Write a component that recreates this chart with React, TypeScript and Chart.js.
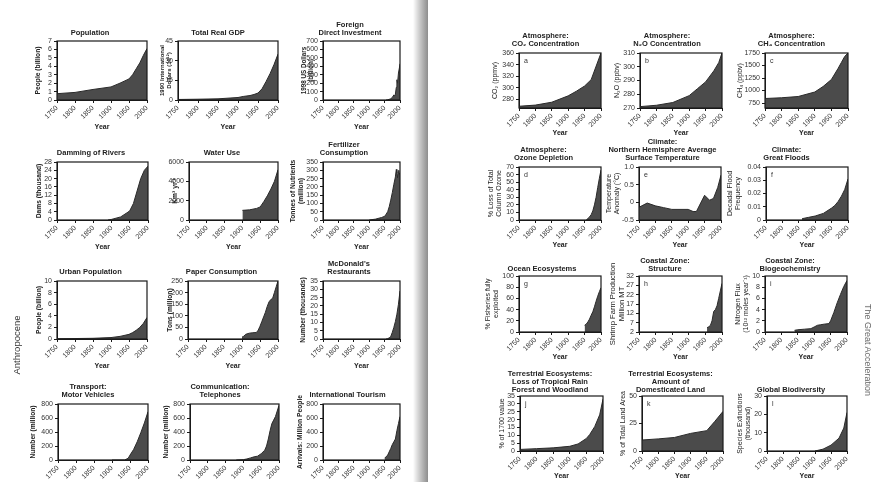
import React, { useEffect, useRef } from 'react';
import { Chart, registerables } from 'chart.js';

Chart.register(...registerables);
Chart.defaults.font.family = '"Liberation Sans", Arial, Helvetica, sans-serif';

// ---------- shared ticks ----------
const yearTicks = [1750, 1800, 1850, 1900, 1950, 2000];

// ---------- left page data ----------
const popYears = [1750, 1800, 1850, 1900, 1925, 1950, 1960, 1970, 1980, 1990, 2000];
const popValues = [0.75, 0.9, 1.25, 1.55, 2.0, 2.5, 3.0, 3.7, 4.4, 5.3, 6.1];
const popTicks = [0, 1, 2, 3, 4, 5, 6, 7];

const gdpYears = [1750, 1800, 1850, 1900, 1913, 1930, 1940, 1950, 1960, 1970, 1980, 1990, 2000];
const gdpValues = [0.4, 0.6, 0.9, 1.9, 2.7, 3.4, 4.2, 5.3, 8.5, 14, 20, 27, 35];
const gdpTicks = [0, 15, 30, 45];

const fdiYears = [1955, 1960, 1965, 1970, 1975, 1980, 1983, 1985, 1988, 1990, 1992, 1995, 1998, 2000];
const fdiValues = [0, 3, 8, 15, 30, 60, 50, 70, 150, 240, 200, 320, 380, 430];
const fdiTicks = [0, 100, 200, 300, 400, 500, 600, 700];

const damYears = [1890, 1900, 1925, 1945, 1950, 1960, 1970, 1980, 1990, 2000];
const damValues = [0, 0.3, 1.5, 3.8, 4.5, 8, 14, 20, 24, 26];
const damTicks = [0, 4, 8, 12, 16, 20, 24, 28];

const waterYears = [1900, 1920, 1940, 1950, 1960, 1970, 1980, 1990, 2000];
const waterValues = [1000, 1050, 1200, 1350, 1900, 2500, 3200, 4000, 5200];
const waterTicks = [0, 2000, 4000, 6000];

const fertYears = [1900, 1920, 1940, 1950, 1955, 1960, 1965, 1970, 1975, 1980, 1985, 1988, 1990, 1992, 1994, 1996, 1998, 2000];
const fertValues = [0, 5, 15, 22, 35, 50, 80, 120, 165, 215, 260, 305, 285, 255, 290, 300, 275, 285];
const fertTicks = [0, 50, 100, 150, 200, 250, 300, 350];

const urbanYears = [1750, 1800, 1850, 1900, 1925, 1950, 1960, 1970, 1980, 1990, 2000];
const urbanValues = [0.05, 0.08, 0.12, 0.25, 0.45, 0.8, 1.1, 1.5, 2.0, 2.7, 3.7];
const urbanTicks = [0, 2, 4, 6, 8, 10];

const paperYears = [1900, 1905, 1910, 1920, 1930, 1940, 1945, 1950, 1955, 1960, 1965, 1970, 1975, 1980, 1985, 1990, 1995, 2000];
const paperValues = [8, 12, 20, 25, 27, 28, 38, 55, 75, 95, 115, 140, 160, 170, 175, 200, 225, 250];
const paperTicks = [0, 50, 100, 150, 200, 250];

const mcdYears = [1955, 1960, 1965, 1970, 1975, 1980, 1985, 1990, 1995, 2000];
const mcdValues = [0, 0.2, 0.7, 1.5, 4, 7, 10.5, 15, 21, 29];
const mcdTicks = [0, 5, 10, 15, 20, 25, 30, 35];

const carYears = [1900, 1935, 1945, 1950, 1960, 1970, 1980, 1990, 2000];
const carValues = [0, 0, 25, 70, 150, 260, 390, 530, 690];
const carTicks = [0, 200, 400, 600, 800];

const phoneYears = [1880, 1900, 1910, 1920, 1930, 1940, 1950, 1960, 1965, 1970, 1975, 1980, 1985, 1990, 1995, 2000];
const phoneValues = [0, 5, 15, 30, 45, 55, 90, 140, 200, 300, 420, 520, 570, 620, 700, 780];
const phoneTicks = [0, 200, 400, 600, 800];

const tourYears = [1950, 1960, 1970, 1975, 1980, 1985, 1990, 1995, 2000];
const tourValues = [25, 70, 165, 220, 260, 300, 420, 520, 620];
const tourTicks = [0, 200, 400, 600, 800];

// ---------- right page data ----------
const co2Years = [1750, 1800, 1850, 1900, 1925, 1950, 1970, 2000];
const co2Values = [268, 270, 275, 286, 294, 303, 314, 360];
const co2Ticks = [280, 300, 320, 340, 360];

const n2oYears = [1750, 1800, 1850, 1900, 1925, 1950, 1975, 1990, 2000];
const n2oValues = [271, 272, 274, 279, 284, 289, 297, 303, 310];
const n2oTicks = [270, 280, 290, 300, 310];

const ch4Years = [1750, 1800, 1850, 1900, 1925, 1950, 1960, 1970, 1980, 1990, 2000];
const ch4Values = [840, 855, 880, 970, 1080, 1220, 1330, 1440, 1560, 1680, 1750];
const ch4Ticks = [750, 1000, 1250, 1500, 1750];

const ozoneYears = [1955, 1960, 1965, 1970, 1975, 1980, 1985, 1990, 1995, 2000];
const ozoneValues = [0, 2, 4, 7, 12, 20, 30, 43, 55, 66];
const ozoneTicks = [0, 10, 20, 30, 40, 50, 60, 70];

const tempYears = [1750, 1775, 1800, 1825, 1850, 1875, 1900, 1915, 1925, 1950, 1965, 1977, 1990, 2000];
const tempValues = [-0.14, -0.02, -0.1, -0.15, -0.2, -0.2, -0.2, -0.26, -0.26, 0.2, 0.06, 0.11, 0.42, 0.77];
const tempTicks = [-0.5, 0, 0.5, 1.0];

const floodYears = [1860, 1880, 1900, 1925, 1950, 1960, 1970, 1980, 1990, 2000];
const floodValues = [0.001, 0.002, 0.003, 0.005, 0.009, 0.011, 0.014, 0.018, 0.023, 0.031];
const floodTicks = [0, 0.01, 0.02, 0.03, 0.04];

const fishYears = [1950, 1955, 1960, 1965, 1970, 1975, 1980, 1985, 1990, 1995, 2000];
const fishValues = [12, 14, 18, 23, 30, 36, 45, 55, 64, 72, 79];
const fishTicks = [0, 20, 40, 60, 80, 100];

const shrimpYears = [1955, 1960, 1965, 1970, 1975, 1980, 1985, 1990, 1995, 2000];
const shrimpValues = [4.3, 4.8, 5.5, 8, 13, 14, 16, 20, 24, 28];
const shrimpTicks = [2, 7, 12, 17, 22, 27, 32];

const nitroYears = [1840, 1850, 1870, 1890, 1900, 1910, 1920, 1930, 1945, 1950, 1960, 1970, 1980, 1990, 2000];
const nitroValues = [0.3, 0.4, 0.5, 0.6, 0.9, 1.2, 1.3, 1.4, 1.5, 2.0, 3.5, 5.2, 6.7, 8.1, 9.2];
const nitroTicks = [0, 2, 4, 6, 8, 10];

const forestYears = [1750, 1800, 1850, 1900, 1925, 1950, 1960, 1975, 1990, 2000];
const forestValues = [1, 1.5, 2, 3, 4.5, 8, 10.5, 15.5, 23, 33];
const forestTicks = [0, 5, 10, 15, 20, 25, 30, 35];

const landYears = [1750, 1800, 1850, 1900, 1950, 1975, 2000];
const landValues = [10, 11, 12.3, 16, 18.5, 27, 36];
const landTicks = [0, 25, 50];

const extYears = [1900, 1925, 1950, 1975, 1990, 2000];
const extValues = [0, 1, 3.2, 7, 12.5, 21];
const extTicks = [0, 10, 20, 30];

// ---------- panel definitions ----------
type PanelDef = {
  title: string[];
  yTitle: string[];
  years: number[];
  values: number[];
  yMin: number;
  yMax: number;
  yTicks: number[];
  fmt?: (v: number) => string;
  letter?: string;
};

const tempFmt = (v: number) => (v === 0 ? '0' : v.toFixed(1));
const floodFmt = (v: number) => (v === 0 ? '0' : v.toFixed(2));

const panels: PanelDef[] = [
  { title: ['Population'], yTitle: ['People (billion)'], years: popYears, values: popValues, yMin: 0, yMax: 7, yTicks: popTicks },
  { title: ['Total Real GDP'], yTitle: ['1990 International', 'Dollars (10¹²)'], years: gdpYears, values: gdpValues, yMin: 0, yMax: 45, yTicks: gdpTicks },
  { title: ['Foreign', 'Direct Investment'], yTitle: ['1998 US Dollars', '(billion)'], years: fdiYears, values: fdiValues, yMin: 0, yMax: 700, yTicks: fdiTicks },
  { title: ['Damming of Rivers'], yTitle: ['Dams (thousand)'], years: damYears, values: damValues, yMin: 0, yMax: 28, yTicks: damTicks },
  { title: ['Water Use'], yTitle: ['Km³ yr⁻¹'], years: waterYears, values: waterValues, yMin: 0, yMax: 6000, yTicks: waterTicks },
  { title: ['Fertilizer', 'Consumption'], yTitle: ['Tonnes of Nutrients', '(million)'], years: fertYears, values: fertValues, yMin: 0, yMax: 350, yTicks: fertTicks },
  { title: ['Urban Population'], yTitle: ['People (billion)'], years: urbanYears, values: urbanValues, yMin: 0, yMax: 10, yTicks: urbanTicks },
  { title: ['Paper Consumption'], yTitle: ['Tons (million)'], years: paperYears, values: paperValues, yMin: 0, yMax: 250, yTicks: paperTicks },
  { title: ["McDonald's", 'Restaurants'], yTitle: ['Number (thousands)'], years: mcdYears, values: mcdValues, yMin: 0, yMax: 35, yTicks: mcdTicks },
  { title: ['Transport:', 'Motor Vehicles'], yTitle: ['Number (million)'], years: carYears, values: carValues, yMin: 0, yMax: 800, yTicks: carTicks },
  { title: ['Communication:', 'Telephones'], yTitle: ['Number (million)'], years: phoneYears, values: phoneValues, yMin: 0, yMax: 800, yTicks: phoneTicks },
  { title: ['International Tourism'], yTitle: ['Arrivals: Million People'], years: tourYears, values: tourValues, yMin: 0, yMax: 800, yTicks: tourTicks },

  { title: ['Atmosphere:', 'CO₂ Concentration'], yTitle: ['CO₂ (ppmv)'], years: co2Years, values: co2Values, yMin: 265, yMax: 360, yTicks: co2Ticks, letter: 'a' },
  { title: ['Atmosphere:', 'N₂O Concentration'], yTitle: ['N₂O (ppbv)'], years: n2oYears, values: n2oValues, yMin: 270, yMax: 310, yTicks: n2oTicks, letter: 'b' },
  { title: ['Atmosphere:', 'CH₄ Concentration'], yTitle: ['CH₄ (ppbv)'], years: ch4Years, values: ch4Values, yMin: 650, yMax: 1750, yTicks: ch4Ticks, letter: 'c' },
  { title: ['Atmosphere:', 'Ozone Depletion'], yTitle: ['% Loss of Total', 'Column Ozone'], years: ozoneYears, values: ozoneValues, yMin: 0, yMax: 70, yTicks: ozoneTicks, letter: 'd' },
  { title: ['Climate:', 'Northern Hemisphere Average', 'Surface Temperature'], yTitle: ['Temperature', 'Anomaly (°C)'], years: tempYears, values: tempValues, yMin: -0.5, yMax: 1.0, yTicks: tempTicks, fmt: tempFmt, letter: 'e' },
  { title: ['Climate:', 'Great Floods'], yTitle: ['Decadal Flood', 'Frequency'], years: floodYears, values: floodValues, yMin: 0, yMax: 0.04, yTicks: floodTicks, fmt: floodFmt, letter: 'f' },
  { title: ['Ocean Ecosystems'], yTitle: ['% Fisheries fully', 'exploited'], years: fishYears, values: fishValues, yMin: 0, yMax: 100, yTicks: fishTicks, letter: 'g' },
  { title: ['Coastal Zone:', 'Structure'], yTitle: ['Shrimp Farm Production', 'Million MT'], years: shrimpYears, values: shrimpValues, yMin: 2, yMax: 32, yTicks: shrimpTicks, letter: 'h' },
  { title: ['Coastal Zone:', 'Biogeochemistry'], yTitle: ['Nitrogen Flux', '(10¹² moles year⁻¹)'], years: nitroYears, values: nitroValues, yMin: 0, yMax: 10, yTicks: nitroTicks, letter: 'i' },
  { title: ['Terrestrial Ecosystems:', 'Loss of Tropical Rain', 'Forest and Woodland'], yTitle: ['% of 1700 value'], years: forestYears, values: forestValues, yMin: 0, yMax: 35, yTicks: forestTicks, letter: 'j' },
  { title: ['Terrestrial Ecosystems:', 'Amount of', 'Domesticated Land'], yTitle: ['% of Total Land Area'], years: landYears, values: landValues, yMin: 0, yMax: 50, yTicks: landTicks, letter: 'k' },
  { title: ['Global Biodiversity'], yTitle: ['Species Extinctions', '(thousand)'], years: extYears, values: extValues, yMin: 0, yMax: 30, yTicks: extTicks, letter: 'l' },
];

// ---------- layout (plot rectangles, label offsets) ----------
type Lay = { l: number; t: number; r: number; b: number; d: number; g: number; ys?: number; bold: boolean; xH: number };
const L = (l: number, t: number, r: number, b: number, d: number, g: number, ys?: number): Lay => ({ l, t, r, b, d, g, ys, bold: true, xH: 32 });
const R = (l: number, t: number, r: number, b: number, d: number, g: number, ys?: number): Lay => ({ l, t, r, b, d, g, ys, bold: false, xH: 30 });

const layouts: Lay[] = [
  L(57, 41, 147, 100, 19, 8),
  L(178, 41, 278, 100, 16, 8, 6),
  L(323, 41, 400, 100, 19, 8, 6.3),
  L(57, 162, 148, 220, 18, 9),
  L(189, 162, 278, 220, 14, 9),
  L(323, 162, 400, 220, 30, 9),
  L(57, 281, 147, 339, 18, 9),
  L(188, 281, 278, 339, 18, 9),
  L(323, 281, 400, 339, 20, 9),
  L(58, 404, 148, 460, 25, 9),
  L(190, 404, 279, 460, 24, 9),
  L(323, 404, 400, 460, 23, 9),

  R(519, 53, 601, 108, 24, 9),
  R(640, 53, 722, 108, 23, 9),
  R(765, 53, 848, 108, 25, 9),
  R(519, 167, 601, 220, 28, 9),
  R(639, 167, 721, 220, 30, 9),
  R(766, 167, 848, 220, 36, 9),
  R(519, 276, 601, 332, 31, 7),
  R(639, 276, 722, 332, 26, 7, 7.6),
  R(765, 276, 847, 332, 27, 7),
  R(520, 396, 603, 451, 18, 6),
  R(642, 396, 723, 451, 19, 6),
  R(767, 396, 847, 451, 27, 6),
];

const FILL = '#4b4b4b';
const EDGE = '#2a2a2a';
const INK = '#222';
const TICK_INK = '#333';
const MARGIN = 12;

const framePlugin = {
  id: 'panelFrame',
  afterDatasetsDraw(chart: any) {
    const { ctx, chartArea } = chart;
    const { left, top, right, bottom } = chartArea;
    ctx.save();
    ctx.strokeStyle = '#1a1a1a';
    ctx.lineWidth = 1.2;
    ctx.strokeRect(left, top, right - left, bottom - top);
    ctx.restore();
  },
};

const letterPlugin = {
  id: 'panelLetter',
  afterDatasetsDraw(chart: any, _args: any, opts: any) {
    if (!opts || !opts.text) return;
    const { ctx, chartArea } = chart;
    ctx.save();
    ctx.font = '7px "Liberation Sans", Arial, sans-serif';
    ctx.fillStyle = '#333';
    ctx.textBaseline = 'middle';
    ctx.fillText(opts.text, chartArea.left + 5, chartArea.top + 8);
    ctx.restore();
  },
};

function Panel({ p, lay }: { p: PanelDef; lay: Lay }) {
  const ref = useRef<HTMLCanvasElement>(null);
  const fmt = p.fmt ?? ((v: number) => String(v));
  const ys = lay.ys ?? (lay.bold ? 6.7 : 7);
  const yLh = ys * 1.2;
  const labelChars = Math.max(...p.yTicks.map((v) => fmt(v).length));
  const labelW = labelChars * 3.9 + 7;
  const yW = Math.ceil(Math.max(lay.d + yLh / 2, labelW));
  const titlePad = Math.max(0, yW - lay.d - yLh / 2);
  const plotW = lay.r - lay.l;
  const plotH = lay.b - lay.t;
  const titleLh = 8;
  const pb = Math.round(lay.g - titleLh / 2);
  const titleH = p.title.length * titleLh + pb;
  const xH = lay.xH;
  const side = yW + MARGIN;
  const width = 2 * side + plotW;
  const height = titleH + plotH + xH;
  const left = lay.l - side;
  const top = lay.t - titleH;

  useEffect(() => {
    const canvas = ref.current;
    if (!canvas) return;
    const chart = new Chart(canvas, {
      type: 'line',
      data: {
        datasets: [
          {
            data: p.years.map((x, i) => ({ x, y: p.values[i] })),
            fill: 'start',
            backgroundColor: FILL,
            borderColor: EDGE,
            borderWidth: 1,
            pointRadius: 0,
            tension: 0,
          },
        ],
      },
      options: {
        animation: false,
        responsive: false,
        devicePixelRatio: 1,
        events: [],
        layout: { padding: { left: MARGIN, right: side, top: 0, bottom: 0 } },
        plugins: {
          legend: { display: false },
          tooltip: { enabled: false },
          title: {
            display: true,
            text: p.title,
            color: INK,
            font: { size: 7.5, weight: 'bold', lineHeight: titleLh / 7.5 },
            padding: { top: 0, bottom: pb },
          },
          panelLetter: { text: p.letter },
        } as any,
        scales: {
          x: {
            type: 'linear',
            min: 1750,
            max: 2000,
            afterBuildTicks: (s: any) => {
              s.ticks = yearTicks.map((v) => ({ value: v }));
            },
            afterFit: (s: any) => {
              s.height = xH;
            },
            ticks: {
              autoSkip: false,
              minRotation: 45,
              maxRotation: 45,
              padding: 1,
              color: TICK_INK,
              font: { size: 7 },
              callback: (v: any) => String(v),
            },
            grid: { display: true, drawOnChartArea: false, drawTicks: true, tickLength: 3, color: '#1a1a1a' },
            border: { display: true, color: '#1a1a1a', width: 1 },
            title: {
              display: true,
              text: 'Year',
              color: INK,
              font: { size: 7, weight: 'bold', lineHeight: 1.2 },
              padding: { top: 0, bottom: 1 },
            },
          },
          y: {
            type: 'linear',
            min: p.yMin,
            max: p.yMax,
            afterBuildTicks: (s: any) => {
              s.ticks = p.yTicks.map((v) => ({ value: v }));
            },
            afterFit: (s: any) => {
              s.width = yW;
            },
            ticks: {
              autoSkip: false,
              padding: 2,
              color: TICK_INK,
              font: { size: 7 },
              callback: (v: any) => fmt(Number(v)),
            },
            grid: { display: true, drawOnChartArea: false, drawTicks: true, tickLength: 3, color: '#1a1a1a' },
            border: { display: true, color: '#1a1a1a', width: 1 },
            title: {
              display: true,
              text: p.yTitle,
              color: INK,
              font: { size: ys, weight: lay.bold ? 'bold' : 'normal', lineHeight: 1.2 },
              padding: { top: titlePad, bottom: 0 },
            },
          },
        },
      } as any,
      plugins: [framePlugin, letterPlugin],
    });
    return () => chart.destroy();
  }, []);

  return (
    <canvas
      ref={ref}
      width={width}
      height={height}
      style={{ position: 'absolute', left, top, width, height }}
    />
  );
}

export default function App() {
  useEffect(() => {
    document.body.style.margin = '0';
  }, []);
  return (
    <div
      style={{
        position: 'absolute',
        left: 0,
        top: 0,
        width: 871,
        height: 482,
        overflow: 'hidden',
        background: '#ffffff',
        fontFamily: '"Liberation Sans", Arial, sans-serif',
      }}
    >
      <div
        style={{
          position: 'absolute',
          left: 413,
          top: 0,
          width: 15,
          height: 482,
          background: 'linear-gradient(to right, rgba(210,210,210,0) 0%, #cfcfcf 40%, #a3a3a3 80%, #8e8e8e 100%)',
        }}
      />
      {panels.map((p, i) => (
        <Panel key={i} p={p} lay={layouts[i]} />
      ))}
      <div
        style={{
          position: 'absolute',
          left: 16,
          top: 345,
          transform: 'translate(-50%, -50%) rotate(-90deg)',
          fontSize: 9.5,
          color: '#333333',
          whiteSpace: 'nowrap',
          filter: 'grayscale(100%)',
          WebkitFontSmoothing: 'antialiased',
        }}
      >
        Anthropocene
      </div>
      <div
        style={{
          position: 'absolute',
          left: 868,
          top: 350,
          transform: 'translate(-50%, -50%) rotate(90deg)',
          fontSize: 9,
          color: '#666666',
          whiteSpace: 'nowrap',
          filter: 'grayscale(100%)',
          WebkitFontSmoothing: 'antialiased',
        }}
      >
        The Great Acceleration
      </div>
    </div>
  );
}
